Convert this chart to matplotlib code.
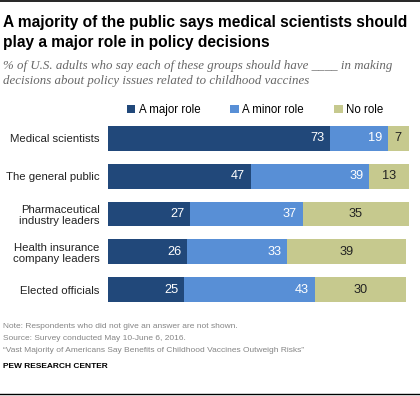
import matplotlib
matplotlib.use("Agg")
import matplotlib.pyplot as plt
from matplotlib.lines import Line2D

categories = ["Medical scientists", "The general public", "Pharmaceutical\nindustry leaders",
              "Health insurance\ncompany leaders", "Elected officials"]
major = [73, 47, 27, 26, 25]
minor = [19, 39, 37, 33, 43]
none_ = [7, 13, 35, 39, 30]
series_names = ["A major role", "A minor role", "No role"]
colors = ["#21487a", "#588fd6", "#c6c98e"]
label_colors = ["white", "white", "#222222"]

plt.rcParams['font.family'] = ['Liberation Sans', 'DejaVu Sans']

W, H = 420, 396
fig = plt.figure(figsize=(W / 100, H / 100), dpi=100)

def fx(px):
    return px / W

def fy(py):
    return 1 - py / H

ax = fig.add_axes([fx(108), fy(308.4), fx(412) - fx(108), fy(119.6) - fy(308.4)])
ypos = list(range(len(categories)))
bar_h = 0.66
left = [0] * len(categories)
handles = []
for vals, col, lc, name in zip([major, minor, none_], colors, label_colors, series_names):
    bars = ax.barh(ypos, vals, left=left, height=bar_h, color=col, edgecolor='none', label=name)
    handles.append(bars)
    for y, v, l in zip(ypos, vals, left):
        if col == colors[2]:
            ax.text(l + v / 2, y, str(v), ha='center', va='center', color=lc, fontsize=9.2)
        else:
            ax.text(l + v - 1.9, y, str(v), ha='right', va='center', color=lc, fontsize=9.2)
    left = [a + b for a, b in zip(left, vals)]

ax.set_xlim(0, 100)
ax.set_ylim(len(categories) - 0.5, -0.5)
ax.set_yticks(ypos)
ax.set_yticklabels(categories, fontsize=8.2, color='#222222', linespacing=1.15)
ax.tick_params(axis='y', length=0, pad=6)
ax.tick_params(axis='x', bottom=False, labelbottom=False)
for s in ax.spines.values():
    s.set_visible(False)

fig.legend(handles=handles, labels=series_names, loc='center', bbox_to_anchor=(fx(255), fy(110)),
           ncol=3, frameon=False, fontsize=8.3, handlelength=0.75, handleheight=0.75,
           handletextpad=0.3, columnspacing=2.6, borderpad=0)

# rules
fig.add_artist(Line2D([0, 1], [fy(1), fy(1)], color='black', lw=1.2))
fig.add_artist(Line2D([0, 1], [fy(394), fy(394)], color='black', lw=1.0))

fig.text(fx(3), fy(22), "A majority of the public says medical scientists should",
         fontsize=11.2, fontweight='bold', va='center', ha='left', color='black')
fig.text(fx(3), fy(43), "play a major role in policy decisions",
         fontsize=11.2, fontweight='bold', va='center', ha='left', color='black')
fig.text(fx(3), fy(66), "% of U.S. adults who say each of these groups should have ____ in making",
         fontsize=9.3, style='italic', family='Liberation Serif', va='center', ha='left', color='#666666')
fig.text(fx(3), fy(81), "decisions about policy issues related to childhood vaccines",
         fontsize=9.3, style='italic', family='Liberation Serif', va='center', ha='left', color='#666666')

foot_fs = 6.0
fig.text(fx(3), fy(327), "Note: Respondents who did not give an answer are not shown.",
         fontsize=foot_fs, va='center', ha='left', color='#858585')
fig.text(fx(3), fy(339), "Source: Survey conducted May 10-June 6, 2016.",
         fontsize=foot_fs, va='center', ha='left', color='#858585')
fig.text(fx(3), fy(351), "\u201cVast Majority of Americans Say Benefits of Childhood Vaccines Outweigh Risks\u201d",
         fontsize=foot_fs, va='center', ha='left', color='#858585')
fig.text(fx(3), fy(366), "PEW RESEARCH CENTER",
         fontsize=foot_fs, fontweight='bold', va='center', ha='left', color='black')

fig.savefig("out.png", dpi=100)
